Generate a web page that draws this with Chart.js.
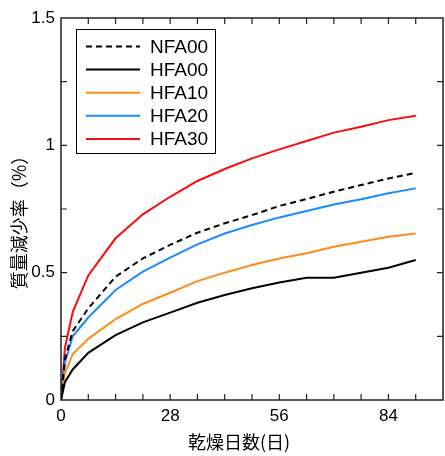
<!DOCTYPE html>
<html>
<head>
<meta charset="utf-8">
<script src="https://cdn.jsdelivr.net/npm/chart.js@4/dist/chart.umd.min.js"></script>
<style>
  html, body { margin: 0; padding: 0; background: #fff; }
  #wrap { width: 445px; height: 456px; }
</style>
</head>
<body>
<div id="wrap"><canvas id="c" width="445" height="456"></canvas></div>
<script>
// drying days (x) and mass loss (%) per mix
const days = [0, 1, 3, 7, 14, 21, 28, 35, 42, 49, 56, 63, 70, 77, 84, 91];
const nfa00 = [0, 0.16, 0.27, 0.36, 0.484, 0.556, 0.609, 0.657, 0.694, 0.726, 0.762, 0.789, 0.818, 0.844, 0.870, 0.892];
const hfa00 = [0, 0.07, 0.12, 0.185, 0.255, 0.305, 0.343, 0.382, 0.412, 0.439, 0.461, 0.480, 0.480, 0.500, 0.519, 0.550];
const hfa10 = [0, 0.105, 0.18, 0.24, 0.318, 0.377, 0.421, 0.467, 0.500, 0.530, 0.556, 0.576, 0.602, 0.621, 0.641, 0.654];
const hfa20 = [0, 0.145, 0.25, 0.324, 0.432, 0.504, 0.559, 0.611, 0.654, 0.687, 0.717, 0.742, 0.768, 0.788, 0.812, 0.831];
const hfa30 = [0, 0.205, 0.345, 0.489, 0.635, 0.729, 0.798, 0.860, 0.907, 0.949, 0.984, 1.017, 1.050, 1.073, 1.099, 1.116];

const seriesNames = ["NFA00", "HFA00", "HFA10", "HFA20", "HFA30"];
const seriesColors = ["#000000", "#000000", "#ff8c1a", "#1a8cff", "#ff0a0a"];
const seriesData = [nfa00, hfa00, hfa10, hfa20, hfa30];

const xTitle = "乾燥日数(日)";
const yTitle = "質量減少率（%）";
const FONT = "Arial, 'Liberation Sans', sans-serif";

function toPoints(vals) {
  return vals.map((v, i) => ({ x: days[i], y: v }));
}

const datasets = seriesNames.map((name, i) => ({
  label: name,
  data: toPoints(seriesData[i]),
  borderColor: seriesColors[i],
  backgroundColor: seriesColors[i],
  borderWidth: 2,
  borderDash: i === 0 ? [6, 4] : [],
  pointRadius: 0,
  tension: 0,
  fill: false,
}));

// box, inward ticks, legend and axis titles
const framePlugin = {
  id: "frame",
  afterDraw(chart) {
    const ctx = chart.ctx;
    const a = chart.chartArea;
    const xs = chart.scales.x;
    const ys = chart.scales.y;
    ctx.save();
    ctx.strokeStyle = "#222";
    ctx.lineWidth = 1.5;
    ctx.strokeRect(a.left, a.top, a.right - a.left, a.bottom - a.top);

    ctx.lineWidth = 1.2;
    ctx.beginPath();
    for (let d = 7; d < 98; d += 7) {
      const px = xs.getPixelForValue(d);
      ctx.moveTo(px, a.bottom); ctx.lineTo(px, a.bottom - 6);
      ctx.moveTo(px, a.top); ctx.lineTo(px, a.top + 6);
    }
    for (let v = 0.25; v < 1.5; v += 0.25) {
      const py = ys.getPixelForValue(v);
      ctx.moveTo(a.left, py); ctx.lineTo(a.left + 6, py);
      ctx.moveTo(a.right, py); ctx.lineTo(a.right - 6, py);
    }
    ctx.stroke();

    // legend
    ctx.fillStyle = "#fff";
    ctx.fillRect(76, 29, 140, 125);
    ctx.strokeStyle = "#000";
    ctx.lineWidth = 1;
    ctx.strokeRect(76.5, 29.5, 139, 124);
    chart.data.datasets.forEach((ds, i) => {
      const y = 46.5 + i * 23.1;
      ctx.beginPath();
      ctx.strokeStyle = ds.borderColor;
      ctx.lineWidth = 2;
      ctx.setLineDash(ds.borderDash || []);
      ctx.moveTo(86, y); ctx.lineTo(140, y);
      ctx.stroke();
      ctx.setLineDash([]);
      ctx.fillStyle = "#000";
      ctx.font = "19px " + FONT;
      ctx.textAlign = "left";
      ctx.textBaseline = "middle";
      ctx.fillText(ds.label, 150, y + 1);
    });

    // axis titles
    ctx.fillStyle = "#000";
    ctx.font = "18px 'Noto Sans CJK JP', " + FONT;
    ctx.textAlign = "center";
    ctx.textBaseline = "middle";
    ctx.fillText(xTitle, 239, 442);
    ctx.save();
    ctx.translate(19, 218);
    ctx.rotate(-Math.PI / 2);
    ctx.fillText(yTitle, 0, 0);
    ctx.restore();
    ctx.restore();
  },
};

new Chart(document.getElementById("c"), {
  type: "line",
  data: { datasets },
  options: {
    responsive: false,
    animation: false,
    layout: { padding: { top: 18, right: 2, left: 0, bottom: 0 } },
    plugins: { legend: { display: false }, tooltip: { enabled: false } },
    scales: {
      x: {
        type: "linear",
        min: 0,
        max: 98,
        grid: { display: false, drawTicks: false },
        border: { display: false },
        ticks: {
          stepSize: 28,
          includeBounds: false,
          color: "#000",
          padding: 6,
          maxRotation: 0,
          font: { family: FONT, size: 17 },
        },
        afterFit(scale) { scale.height = 56; },
      },
      y: {
        min: 0,
        max: 1.5,
        grid: { display: false, drawTicks: false },
        border: { display: false },
        ticks: {
          stepSize: 0.5,
          color: "#000",
          padding: 6,
          font: { family: FONT, size: 17 },
          callback: (v) => String(v),
        },
        afterFit(scale) { scale.width = 61; },
      },
    },
  },
  plugins: [framePlugin],
});
</script>
</body>
</html>
